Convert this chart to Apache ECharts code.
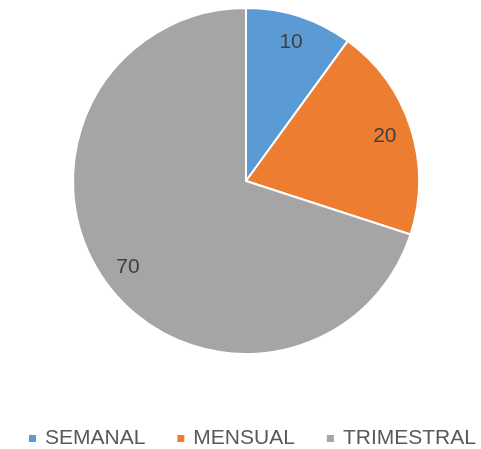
<!DOCTYPE html>
<html>
<head>
<meta charset="utf-8">
<script src="https://cdn.jsdelivr.net/npm/echarts@6/dist/echarts.min.js"></script>
<style>
  html, body { margin: 0; padding: 0; background: #fff; }
  #chart-container { width: 481px; height: 449px; }
</style>
</head>
<body>
<div id="chart-container"></div>
<script>
// data
var categories = ['SEMANAL', 'MENSUAL', 'TRIMESTRAL'];
var values = [10, 20, 70];
var sliceColors = ['#5B9BD5', '#ED7D31', '#A5A5A5'];

var dom = document.getElementById('chart-container');
var myChart = echarts.init(dom, null, { renderer: 'canvas' });

var pieData = categories.map(function (name, i) {
  return { name: name, value: values[i], itemStyle: { color: sliceColors[i] } };
});

var center = [246, 181];

var option = {
  animation: false,
  color: sliceColors,
  legend: {
    data: categories,
    left: 27,
    top: 428,
    width: 454,
    padding: 0,
    icon: 'rect',
    itemWidth: 9,
    itemHeight: 9,
    itemGap: 30,
    textStyle: {
      fontFamily: 'Liberation Sans',
      fontSize: 21,
      color: '#595959',
      padding: [0, 0, 0, 3]
    }
  },
  series: [
    {
      // the visible pie
      type: 'pie',
      center: center,
      radius: 173,
      startAngle: 90,
      clockwise: true,
      silent: true,
      label: { show: false },
      labelLine: { show: false },
      itemStyle: { borderColor: '#fff', borderWidth: 2 },
      data: pieData
    },
    {
      // transparent ring just to put the value labels out near the rim
      type: 'pie',
      center: center,
      radius: [113, 173],
      startAngle: 90,
      clockwise: true,
      silent: true,
      itemStyle: { color: 'transparent' },
      label: {
        show: true,
        position: 'inside',
        formatter: '{c}',
        fontFamily: 'Liberation Sans',
        fontSize: 21,
        color: '#404040'
      },
      labelLine: { show: false },
      data: categories.map(function (name, i) {
        return { name: name, value: values[i] };
      })
    }
  ]
};

myChart.setOption(option);
window.addEventListener('resize', myChart.resize);
</script>
</body>
</html>
